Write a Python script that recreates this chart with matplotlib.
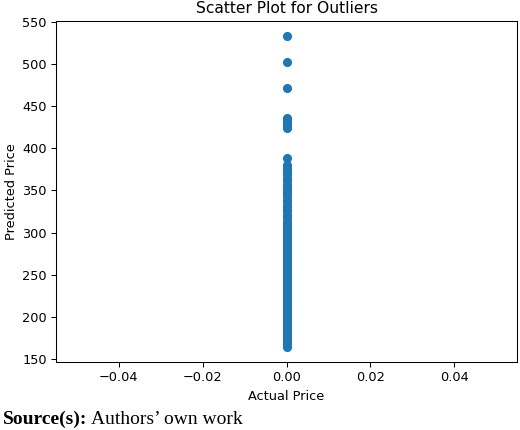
import matplotlib
matplotlib.use("Agg")
import matplotlib.pyplot as plt

# Predicted prices; actual price is 0 for every point
outlier_prices = [533, 502, 471, 436, 433, 430, 427, 424, 388]
upper_band = [380, 376, 373, 369, 365, 362, 358, 354, 350, 347, 343,
              339, 336, 332, 328, 325, 321, 317]
lower_band = [312, 309, 306, 303, 300, 297, 294, 291, 288, 285, 282,
              279, 276, 273, 270, 267, 264, 261, 258, 255, 252, 249,
              246, 243, 240, 237, 234, 231, 228, 225, 222, 219, 216,
              213, 210, 207, 204, 201, 198, 195, 192, 189, 186, 183,
              180, 177, 174, 171, 168, 164]

predicted = outlier_prices + upper_band + lower_band
actual = [0.0] * len(predicted)

W, H = 520, 430
fig = plt.figure(figsize=(W / 100, H / 100), dpi=100)
ax = fig.add_axes([56 / W, (H - 362) / H, 461 / W, 341.5 / H])

fs = 9.3
ax.scatter(actual, predicted, s=31, color="#1f77b4", zorder=3)
ax.set_xlim(-0.055, 0.055)
ax.set_ylim(146.5, 551.5)
ax.set_xticks([-0.04, -0.02, 0.0, 0.02, 0.04])
ax.set_yticks([150, 200, 250, 300, 350, 400, 450, 500, 550])
ax.tick_params(labelsize=fs, width=0.75, length=3.3, pad=3.2)
for sp in ax.spines.values():
    sp.set_linewidth(0.75)

ax.set_title("Scatter Plot for Outliers", fontsize=11.2, pad=5.5)
ax.set_xlabel("Actual Price", fontsize=fs, labelpad=4)
ax.set_ylabel("Predicted Price", fontsize=fs, labelpad=3)

# source line under the chart, bold prefix then plain text
src_y = 1 - 424 / H
t1 = fig.text(3 / W, src_y, "Source(s):", fontsize=14,
              family="Liberation Serif", weight="bold", va="baseline", ha="left")
fig.canvas.draw()
bb = t1.get_window_extent()
fig.text((bb.x1 + 4) / W, src_y, "Authors\u2019 own work", fontsize=14,
         family="Liberation Serif", va="baseline", ha="left")

fig.savefig("out.png", dpi=100)
